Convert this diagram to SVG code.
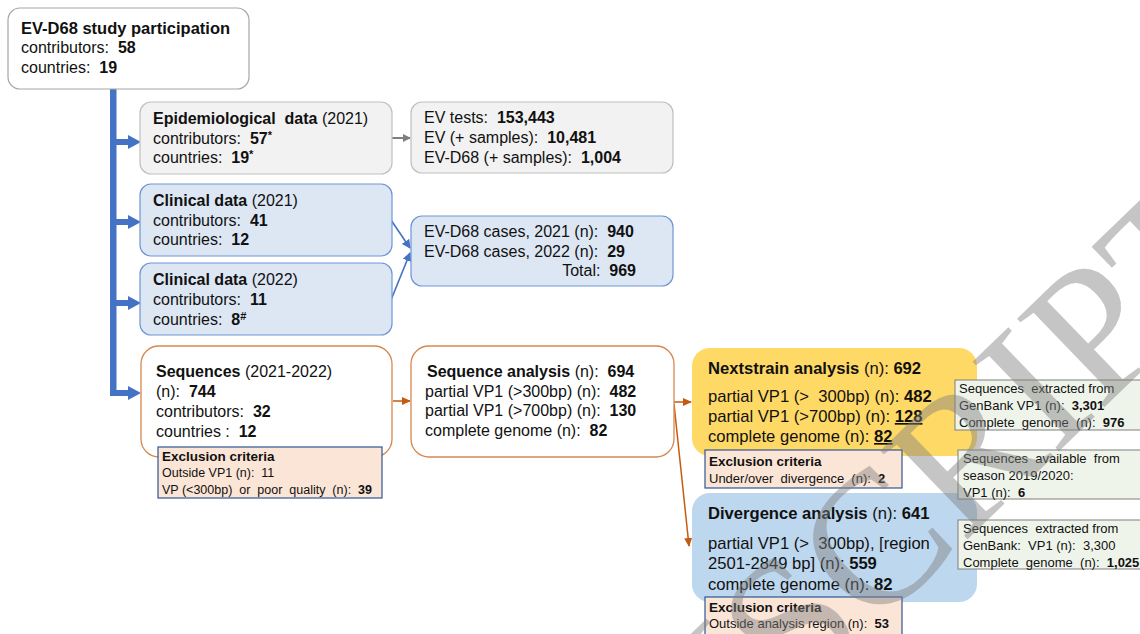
<svg xmlns="http://www.w3.org/2000/svg" width="1140" height="634" viewBox="0 0 1140 634" xml:space="preserve">
<defs>
<style>
text{font-family:"Liberation Sans",Arial,sans-serif;fill:#111;white-space:pre;}
.t16{font-size:16px;}
.t17{font-size:16.6px;}
.t13{font-size:13px;}
.t12{font-size:12.5px;}
.h{font-size:13.5px;font-weight:bold;}
.b{font-weight:bold;}
.gray{fill:#f2f2f2;stroke:#bfbfbf;stroke-width:1.2;}
.clin{fill:#dde7f4;stroke:#6e95d6;stroke-width:1.2;}
.seq{fill:#fff;stroke:#d9874f;stroke-width:1.3;}
.excl{fill:#fbe5d6;stroke:#2f5597;stroke-width:1.2;}
.green{fill:#eff4ea;stroke:#7f7f7f;stroke-width:1;}
.wm{font-family:"Liberation Serif","Times New Roman",serif;font-size:190px;fill:#808080;opacity:0.45;}
</style>
<marker id="ag" markerWidth="8" markerHeight="8" refX="7" refY="4" orient="auto" markerUnits="userSpaceOnUse"><path d="M0,0 L8,4 L0,8 Z" fill="#7f7f7f"/></marker>
<marker id="ab" markerWidth="9" markerHeight="9" refX="8" refY="4.5" orient="auto" markerUnits="userSpaceOnUse"><path d="M0,0 L9,4.5 L0,9 Z" fill="#4472c4"/></marker>
<marker id="ao" markerWidth="9" markerHeight="8" refX="8" refY="4" orient="auto" markerUnits="userSpaceOnUse"><path d="M0,0 L9,4 L0,8 Z" fill="#c55a11"/></marker>
</defs>
<rect width="1140" height="634" fill="#fff"/>

<g id="connectors">
<g fill="#4472c4">
<rect x="110" y="89" width="6.5" height="307"/>
<rect x="110" y="139" width="19" height="6"/><path d="M128,135 L141,142 L128,149 Z"/>
<rect x="110" y="219" width="19" height="6"/><path d="M128,215 L141,222 L128,229 Z"/>
<rect x="110" y="300" width="19" height="6"/><path d="M128,296 L141,303 L128,310 Z"/>
<rect x="110" y="390" width="19" height="6"/><path d="M128,386 L141,393 L128,400 Z"/>
</g>
<line x1="392" y1="138" x2="410" y2="138" stroke="#7f7f7f" stroke-width="2" marker-end="url(#ag)"/>
<line x1="391" y1="220" x2="410" y2="248" stroke="#4472c4" stroke-width="1.6" marker-end="url(#ab)"/>
<line x1="391" y1="300" x2="410" y2="253" stroke="#4472c4" stroke-width="1.6" marker-end="url(#ab)"/>
<line x1="393" y1="401" x2="410" y2="401" stroke="#c55a11" stroke-width="1.5" marker-end="url(#ao)"/>
<line x1="674" y1="402" x2="691" y2="402" stroke="#c55a11" stroke-width="1.5" marker-end="url(#ao)"/>
<line x1="674" y1="404" x2="689" y2="546" stroke="#c55a11" stroke-width="1.5" marker-end="url(#ao)"/>
</g>

<g id="study">
<rect x="8" y="8" width="241" height="81" rx="12" fill="#fff" stroke="#a6a6a6" stroke-width="1.2"/>
<text class="t16" x="21" y="34"><tspan class="b" font-size="16.5">EV-D68 study participation</tspan></text>
<text class="t16" x="21" y="53">contributors:  <tspan class="b">58</tspan></text>
<text class="t16" x="21" y="73">countries:  <tspan class="b">19</tspan></text>
</g>

<g id="epi">
<rect class="gray" x="140" y="102" width="252" height="72" rx="11"/>
<text class="t16" x="153" y="124"><tspan class="b">Epidemiological  data</tspan> (2021)</text>
<text class="t16" x="153" y="144">contributors:  <tspan class="b">57</tspan><tspan class="b" font-size="11" dy="-5">*</tspan></text>
<text class="t16" x="153" y="163">countries:  <tspan class="b">19</tspan><tspan class="b" font-size="11" dy="-5">*</tspan></text>
</g>

<g id="evtests">
<rect class="gray" x="411" y="102" width="262" height="71" rx="11"/>
<text class="t16" x="424" y="123">EV tests:  <tspan class="b">153,443</tspan></text>
<text class="t16" x="424" y="143">EV (+ samples):  <tspan class="b">10,481</tspan></text>
<text class="t16" x="424" y="163">EV-D68 (+ samples):  <tspan class="b">1,004</tspan></text>
</g>

<g id="clin2021">
<rect class="clin" x="140" y="184" width="252" height="72" rx="11"/>
<text class="t16" x="153" y="206"><tspan class="b">Clinical data</tspan> (2021)</text>
<text class="t16" x="153" y="226">contributors:  <tspan class="b">41</tspan></text>
<text class="t16" x="153" y="245">countries:  <tspan class="b">12</tspan></text>
</g>

<g id="clin2022">
<rect class="clin" x="140" y="263" width="252" height="72" rx="11"/>
<text class="t16" x="153" y="285"><tspan class="b">Clinical data</tspan> (2022)</text>
<text class="t16" x="153" y="305">contributors:  <tspan class="b">11</tspan></text>
<text class="t16" x="153" y="325">countries:  <tspan class="b">8</tspan><tspan class="b" font-size="11" dy="-5">#</tspan></text>
</g>

<g id="cases">
<rect class="clin" x="411" y="216" width="262" height="70" rx="11"/>
<text class="t16" x="424" y="237">EV-D68 cases, 2021 (n):  <tspan class="b">940</tspan></text>
<text class="t16" x="424" y="257">EV-D68 cases, 2022 (n):  <tspan class="b">29</tspan></text>
<text class="t16" x="636" y="276" text-anchor="end">Total:  <tspan class="b">969</tspan></text>
</g>

<g id="sequences">
<rect class="seq" x="141" y="346" width="251" height="111" rx="18"/>
<text class="t16" x="156" y="377"><tspan class="b">Sequences</tspan> (2021-2022)</text>
<text class="t16" x="156" y="397">(n):  <tspan class="b">744</tspan></text>
<text class="t16" x="156" y="417">contributors:  <tspan class="b">32</tspan></text>
<text class="t16" x="156" y="437">countries :  <tspan class="b">12</tspan></text>
</g>

<g id="excl1">
<rect class="excl" x="158" y="447" width="224" height="51"/>
<text class="h" x="162" y="461">Exclusion criteria</text>
<text class="t12" x="162" y="477">Outside VP1 (n):  11</text>
<text class="t12" x="162" y="494">VP (&lt;300bp)  or  poor  quality  (n):  <tspan class="b">39</tspan></text>
</g>

<g id="seqanalysis">
<rect class="seq" x="411" y="346" width="263" height="111" rx="18"/>
<text class="t16" x="427" y="377"><tspan class="b">Sequence analysis</tspan> (n):  <tspan class="b">694</tspan></text>
<text class="t16" x="425" y="397">partial VP1 (&gt;300bp) (n):  <tspan class="b">482</tspan></text>
<text class="t16" x="425" y="416">partial VP1 (&gt;700bp) (n):  <tspan class="b">130</tspan></text>
<text class="t16" x="425" y="436">complete genome (n):  <tspan class="b">82</tspan></text>
</g>

<g id="nextstrain">
<rect x="692" y="348" width="285" height="108" rx="18" fill="#ffd966"/>
<text class="t17" x="708" y="374"><tspan class="b">Nextstrain analysis</tspan> (n): <tspan class="b">692</tspan></text>
<text class="t17" x="708" y="402">partial VP1 (&gt;  300bp) (n): <tspan class="b">482</tspan></text>
<text class="t17" x="708" y="422">partial VP1 (&gt;700bp) (n): <tspan class="b" text-decoration="underline">128</tspan></text>
<text class="t17" x="708" y="442">complete genome (n): <tspan class="b" text-decoration="underline">82</tspan></text>
</g>

<g id="excl2">
<rect class="excl" x="705" y="450" width="197" height="38"/>
<text class="h" x="709" y="466">Exclusion criteria</text>
<text class="t13" x="709" y="483">Under/over  divergence  (n):  <tspan class="b">2</tspan></text>
</g>

<g id="divergence">
<rect x="692" y="493" width="285" height="109" rx="18" fill="#bdd7ee"/>
<text class="t17" x="708" y="519"><tspan class="b">Divergence analysis</tspan> (n): <tspan class="b">641</tspan></text>
<text class="t17" x="708" y="549">partial VP1 (&gt;  300bp), [region</text>
<text class="t17" x="708" y="569">2501-2849 bp] (n): <tspan class="b">559</tspan></text>
<text class="t17" x="708" y="590">complete genome (n): <tspan class="b">82</tspan></text>
</g>

<g id="excl3">
<rect class="excl" x="705" y="597" width="197" height="40"/>
<text class="h" x="709" y="612">Exclusion criteria</text>
<text class="t13" x="709" y="628">Outside analysis region (n):  <tspan class="b">53</tspan></text>
</g>

<g id="genbank1">
<rect class="green" x="955" y="380" width="190" height="50"/>
<text class="t13" x="959" y="393">Sequences  extracted from</text>
<text class="t13" x="959" y="410">GenBank VP1 (n):  <tspan class="b">3,301</tspan></text>
<text class="t13" x="959" y="427">Complete  genome  (n):  <tspan class="b">976</tspan></text>
</g>

<g id="season">
<rect class="green" x="958" y="450" width="190" height="49"/>
<text class="t13" x="963" y="463">Sequences  available  from</text>
<text class="t13" x="963" y="480">season 2019/2020:</text>
<text class="t13" x="963" y="497">VP1 (n):  <tspan class="b">6</tspan></text>
</g>

<g id="genbank2">
<rect class="green" x="958" y="520" width="190" height="49"/>
<text class="t13" x="963" y="533">Sequences  extracted from</text>
<text class="t13" x="963" y="550">GenBank:  VP1 (n):  3,300</text>
<text class="t13" x="963" y="567">Complete  genome  (n):  <tspan class="b">1,025</tspan></text>
</g>

<text class="wm" transform="translate(1259,258) rotate(-44)" text-anchor="end">ACCEPTED MANUSCRIPT</text>
</svg>
